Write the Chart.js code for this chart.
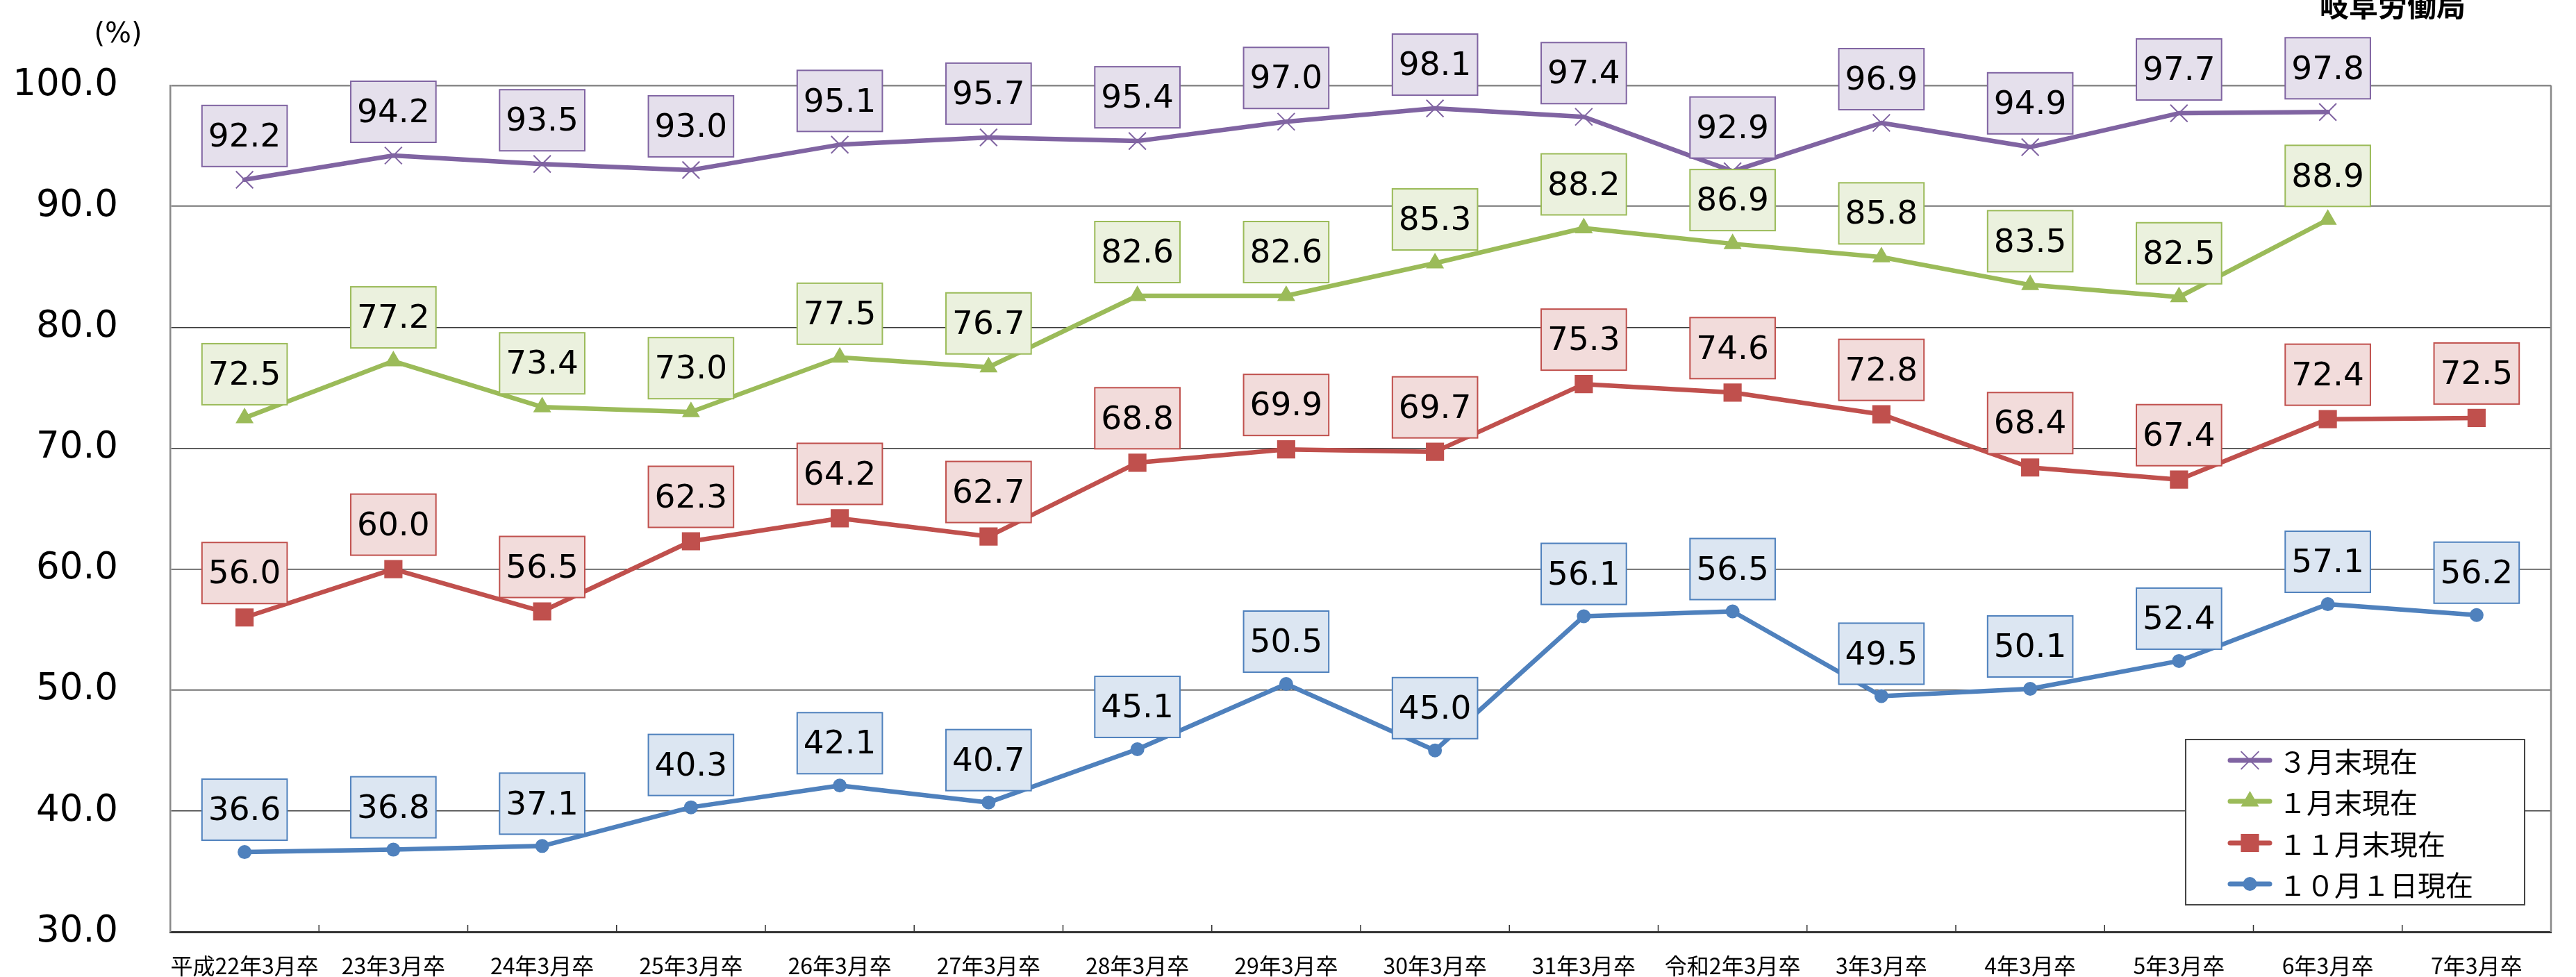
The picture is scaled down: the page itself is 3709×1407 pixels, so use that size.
<!DOCTYPE html>
<html lang="ja">
<head>
<meta charset="UTF-8">
<title>就職内定率の推移</title>
<script src="https://cdn.jsdelivr.net/npm/chart.js"></script>
<style>
  html, body { margin: 0; padding: 0; background: #fff; }
  #wrap { width: 3709px; height: 1407px; position: relative; }
</style>
</head>
<body>
<div id="wrap"><canvas id="chart" width="3709" height="1407"></canvas></div>
<script>
// Categories (graduation year) and rates in %
const categories = [
  '平成22年3月卒', '23年3月卒', '24年3月卒', '25年3月卒', '26年3月卒', '27年3月卒',
  '28年3月卒', '29年3月卒', '30年3月卒', '31年3月卒', '令和2年3月卒', '3年3月卒',
  '4年3月卒', '5年3月卒', '6年3月卒', '7年3月卒'
];
const endOfMarch = [92.2, 94.2, 93.5, 93.0, 95.1, 95.7, 95.4, 97.0, 98.1, 97.4, 92.9, 96.9, 94.9, 97.7, 97.8, null];
const endOfJanuary = [72.5, 77.2, 73.4, 73.0, 77.5, 76.7, 82.6, 82.6, 85.3, 88.2, 86.9, 85.8, 83.5, 82.5, 88.9, null];
const endOfNovember = [56.0, 60.0, 56.5, 62.3, 64.2, 62.7, 68.8, 69.9, 69.7, 75.3, 74.6, 72.8, 68.4, 67.4, 72.4, 72.5];
const octoberFirst = [36.6, 36.8, 37.1, 40.3, 42.1, 40.7, 45.1, 50.5, 45.0, 56.1, 56.5, 49.5, 50.1, 52.4, 57.1, 56.2];
const seriesNames = ['３月末現在', '１月末現在', '１１月末現在', '１０月１日現在'];
const yMin = 30, yMax = 100, yStep = 10;

const NUM_FONT = '"DejaVu Sans", Verdana, sans-serif';
const JP_FONT = '"Noto Sans CJK JP", "Noto Sans", sans-serif';

const makeSeries = (label, data, color, fill, style, radius, borderW, gap) => ({
  label,
  data,
  borderColor: color,
  backgroundColor: color,
  borderWidth: 6.5,
  borderCapStyle: 'round',
  borderJoinStyle: 'round',
  tension: 0,
  pointStyle: style,
  pointRadius: radius,
  pointHoverRadius: radius,
  pointBackgroundColor: color,
  pointBorderColor: color,
  pointBorderWidth: borderW,
  labelFill: fill,
  labelGap: gap
});

const datasets = [
  makeSeries(seriesNames[0], endOfMarch, '#8064A2', '#E5E0EC', 'crossRot', 17.5, 2, 19),
  makeSeries(seriesNames[1], endOfJanuary, '#9BBB59', '#EBF1DE', 'triangle', 15, 0, 19),
  makeSeries(seriesNames[2], endOfNovember, '#C0504D', '#F2DCDB', 'rect', 18.5, 0, 20),
  makeSeries(seriesNames[3], octoberFirst, '#4F81BD', '#DCE6F2', 'circle', 10, 0, 17)
];

// boxed value labels above every point
const valueLabels = {
  id: 'valueLabels',
  afterDatasetsDraw(chart) {
    const ctx = chart.ctx;
    ctx.save();
    ctx.font = '47px ' + NUM_FONT;
    ctx.textAlign = 'center';
    ctx.textBaseline = 'middle';
    chart.data.datasets.forEach((ds, di) => {
      const meta = chart.getDatasetMeta(di);
      meta.data.forEach((pt, i) => {
        const v = ds.data[i];
        if (v == null) return;
        const text = v.toFixed(1);
        const w = ctx.measureText(text).width + 18;
        const h = 88;
        const bottom = pt.y - ds.labelGap;
        ctx.fillStyle = ds.labelFill;
        ctx.fillRect(pt.x - w / 2, bottom - h, w, h);
        ctx.strokeStyle = ds.borderColor;
        ctx.lineWidth = 2;
        ctx.strokeRect(pt.x - w / 2, bottom - h, w, h);
        ctx.fillStyle = '#000';
        ctx.fillText(text, pt.x, bottom - h / 2 + 3);
      });
    });
    ctx.restore();
  }
};

// right frame, inner x ticks, unit and office text, boxed legend
const decorations = {
  id: 'decorations',
  beforeDatasetsDraw(chart) {
    const { ctx, chartArea } = chart;
    const x = chart.scales.x;
    const n = categories.length;
    ctx.save();
    ctx.strokeStyle = '#888';
    ctx.lineWidth = 2.5;
    ctx.beginPath();
    ctx.moveTo(chartArea.right, chartArea.top);
    ctx.lineTo(chartArea.right, chartArea.bottom);
    ctx.stroke();
    ctx.strokeStyle = '#333';
    ctx.lineWidth = 1.5;
    for (let i = 1; i < n; i++) {
      const px = (x.getPixelForValue(i - 1) + x.getPixelForValue(i)) / 2;
      ctx.beginPath();
      ctx.moveTo(px, chartArea.bottom);
      ctx.lineTo(px, chartArea.bottom - 10);
      ctx.stroke();
    }
    ctx.restore();
  },
  afterDraw(chart) {
    const { ctx, chartArea } = chart;
    ctx.save();
    ctx.fillStyle = '#000';
    ctx.textAlign = 'center';
    ctx.textBaseline = 'middle';
    ctx.font = '40px ' + NUM_FONT;
    ctx.fillText('(%)', 170, 51);
    ctx.font = 'bold 42px ' + JP_FONT;
    ctx.textBaseline = 'alphabetic';
    ctx.fillText('岐阜労働局', 3445, 24);

    // legend box
    const bw = 488, bh = 238;
    const left = chartArea.right - 38 - bw;
    const top = chartArea.bottom - 39 - bh;
    ctx.fillStyle = '#fff';
    ctx.fillRect(left, top, bw, bh);
    ctx.strokeStyle = '#444';
    ctx.lineWidth = 2;
    ctx.strokeRect(left, top, bw, bh);
    const rows = [30, 89, 149, 208];
    chart.data.datasets.forEach((ds, i) => {
      const y = top + rows[i];
      ctx.strokeStyle = ds.borderColor;
      ctx.lineWidth = 7;
      ctx.lineCap = 'round';
      ctx.beginPath();
      ctx.moveTo(left + 64, y);
      ctx.lineTo(left + 121, y);
      ctx.stroke();
      ctx.fillStyle = ds.borderColor;
      ctx.lineWidth = ds.pointBorderWidth;
      Chart.helpers.drawPoint(ctx, {
        pointStyle: ds.pointStyle,
        radius: ds.pointRadius,
        borderWidth: ds.pointBorderWidth,
        rotation: 0
      }, left + 92.5, y);
      ctx.fillStyle = '#000';
      ctx.font = '40px ' + JP_FONT;
      ctx.textAlign = 'left';
      ctx.textBaseline = 'middle';
      ctx.fillText(ds.label, left + 134, y + 2);
    });
    ctx.restore();
  }
};

new Chart(document.getElementById('chart'), {
  type: 'line',
  data: { labels: categories, datasets },
  options: {
    responsive: false,
    animation: false,
    devicePixelRatio: 1,
    layout: { padding: { top: 123, right: 36, bottom: 0, left: 0 } },
    plugins: {
      legend: { display: false },
      tooltip: { enabled: false }
    },
    scales: {
      x: {
        offset: true,
        afterFit(scale) { scale.height = 65; },
        grid: { display: false, drawTicks: false },
        border: { display: true, color: '#333', width: 3 },
        ticks: {
          autoSkip: false,
          maxRotation: 0,
          padding: 30,
          color: '#000',
          font: { family: JP_FONT, size: 32 }
        }
      },
      y: {
        min: yMin,
        max: yMax,
        afterFit(scale) { scale.width = 245; },
        border: { display: true, color: '#888', width: 2.5 },
        grid: {
          drawTicks: true,
          tickLength: 75,
          tickColor: 'rgba(0,0,0,0)',
          color: (c) => c.tick && c.tick.value === yMax ? '#888' : (c.tick && c.tick.value === yMin ? 'rgba(0,0,0,0)' : '#3a3a3a'),
          lineWidth: (c) => c.tick && c.tick.value === yMax ? 2.5 : 1.5
        },
        ticks: {
          stepSize: yStep,
          padding: 0,
          color: '#000',
          font: { family: NUM_FONT, size: 53 },
          callback: (v) => Number(v).toFixed(1)
        }
      }
    }
  },
  plugins: [decorations, valueLabels]
});
</script>
</body>
</html>
